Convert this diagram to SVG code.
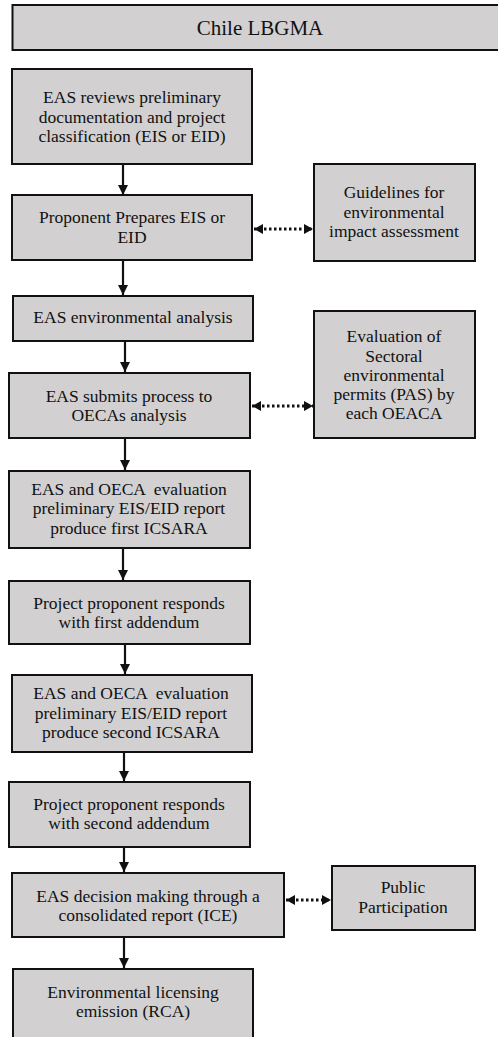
<svg xmlns="http://www.w3.org/2000/svg" width="498" height="1037" viewBox="0 0 498 1037">
<style>
.box{fill:#d2d0d1;stroke:#111;stroke-width:2}
text{font-family:"Liberation Serif","Times New Roman",serif;font-size:17.5px;fill:#111;text-anchor:middle;white-space:pre}
.title{font-size:21px}
.arr{stroke:#111;stroke-width:2.2;fill:none;marker-end:url(#ah)}
.dot{stroke:#111;stroke-width:3;fill:none;stroke-dasharray:2.5,2.5;marker-start:url(#ah2);marker-end:url(#ah2)}
</style>
<defs>
<marker id="ah" markerUnits="userSpaceOnUse" markerWidth="11" markerHeight="11" refX="10" refY="5" orient="auto"><path d="M0,0 L10,5 L0,10 z" fill="#111"/></marker>
<marker id="ah2" markerUnits="userSpaceOnUse" markerWidth="11" markerHeight="11" refX="9" refY="5" orient="auto-start-reverse"><path d="M0,0 L9,5 L0,10 z" fill="#111"/></marker>
</defs>
<rect width="498" height="1037" fill="#fff"/>
<g id="title"><rect class="box" x="12.5" y="5" width="490" height="45"/><text class="title" x="260" y="35">Chile LBGMA</text></g>
<g id="n1"><rect class="box" x="12" y="69" width="240" height="95"/><text x="132" y="103">EAS reviews preliminary</text><text x="132" y="123">documentation and project</text><text x="132" y="142">classification (EIS or EID)</text></g>
<g id="n2"><rect class="box" x="12" y="195" width="240" height="65"/><text x="132" y="223">Proponent Prepares EIS or</text><text x="132" y="243">EID</text></g>
<g id="g1"><rect class="box" x="314" y="164" width="161" height="97"/><text x="394" y="198">Guidelines for</text><text x="394" y="218">environmental</text><text x="394" y="237">impact assessment</text></g>
<g id="n3"><rect class="box" x="13" y="296" width="240" height="45"/><text x="133" y="323">EAS environmental analysis</text></g>
<g id="g2"><rect class="box" x="314" y="311" width="161" height="127"/><text x="394" y="342">Evaluation of</text><text x="394" y="362">Sectoral</text><text x="394" y="381">environmental</text><text x="394" y="400">permits (PAS) by</text><text x="394" y="419">each OEACA</text></g>
<g id="n4"><rect class="box" x="9" y="373" width="241" height="65"/><text x="129" y="402">EAS submits process to</text><text x="129" y="421">OECAs analysis</text></g>
<g id="n5"><rect class="box" x="9" y="471" width="241" height="77"/><text x="129" y="495" xml:space="preserve">EAS and OECA  evaluation</text><text x="129" y="514">preliminary EIS/EID report</text><text x="129" y="534">produce first ICSARA</text></g>
<g id="n6"><rect class="box" x="9" y="581" width="241" height="63"/><text x="129" y="609">Project proponent responds</text><text x="129" y="628">with first addendum</text></g>
<g id="n7"><rect class="box" x="12" y="675" width="240" height="77"/><text x="131" y="699" xml:space="preserve">EAS and OECA  evaluation</text><text x="131" y="719">preliminary EIS/EID report</text><text x="131" y="738">produce second ICSARA</text></g>
<g id="n8"><rect class="box" x="9" y="782" width="241" height="65"/><text x="129" y="810">Project proponent responds</text><text x="129" y="829">with second addendum</text></g>
<g id="n9"><rect class="box" x="12" y="873" width="272" height="64"/><text x="148" y="902">EAS decision making through a</text><text x="148" y="921">consolidated report (ICE)</text></g>
<g id="g3"><rect class="box" x="332" y="866" width="143" height="64"/><text x="403" y="893">Public</text><text x="403" y="913">Participation</text></g>
<g id="n10"><rect class="box" x="13" y="969" width="240" height="80"/><text x="133" y="998">Environmental licensing</text><text x="133" y="1017">emission (RCA)</text></g>
<g id="connectors">
<line class="arr" x1="123" y1="164" x2="123" y2="195"/>
<line class="arr" x1="123" y1="260" x2="123" y2="295"/>
<line class="arr" x1="125" y1="341" x2="125" y2="372"/>
<line class="arr" x1="125" y1="438" x2="125" y2="470"/>
<line class="arr" x1="123" y1="548" x2="123" y2="580"/>
<line class="arr" x1="125" y1="644" x2="125" y2="674"/>
<line class="arr" x1="124" y1="752" x2="124" y2="781"/>
<line class="arr" x1="124" y1="847" x2="124" y2="872"/>
<line class="arr" x1="124" y1="937" x2="124" y2="968"/>
<line class="dot" x1="254" y1="229" x2="313" y2="229"/>
<line class="dot" x1="252" y1="406" x2="313" y2="406"/>
<line class="dot" x1="286" y1="900" x2="331" y2="900"/>
</g>
</svg>
